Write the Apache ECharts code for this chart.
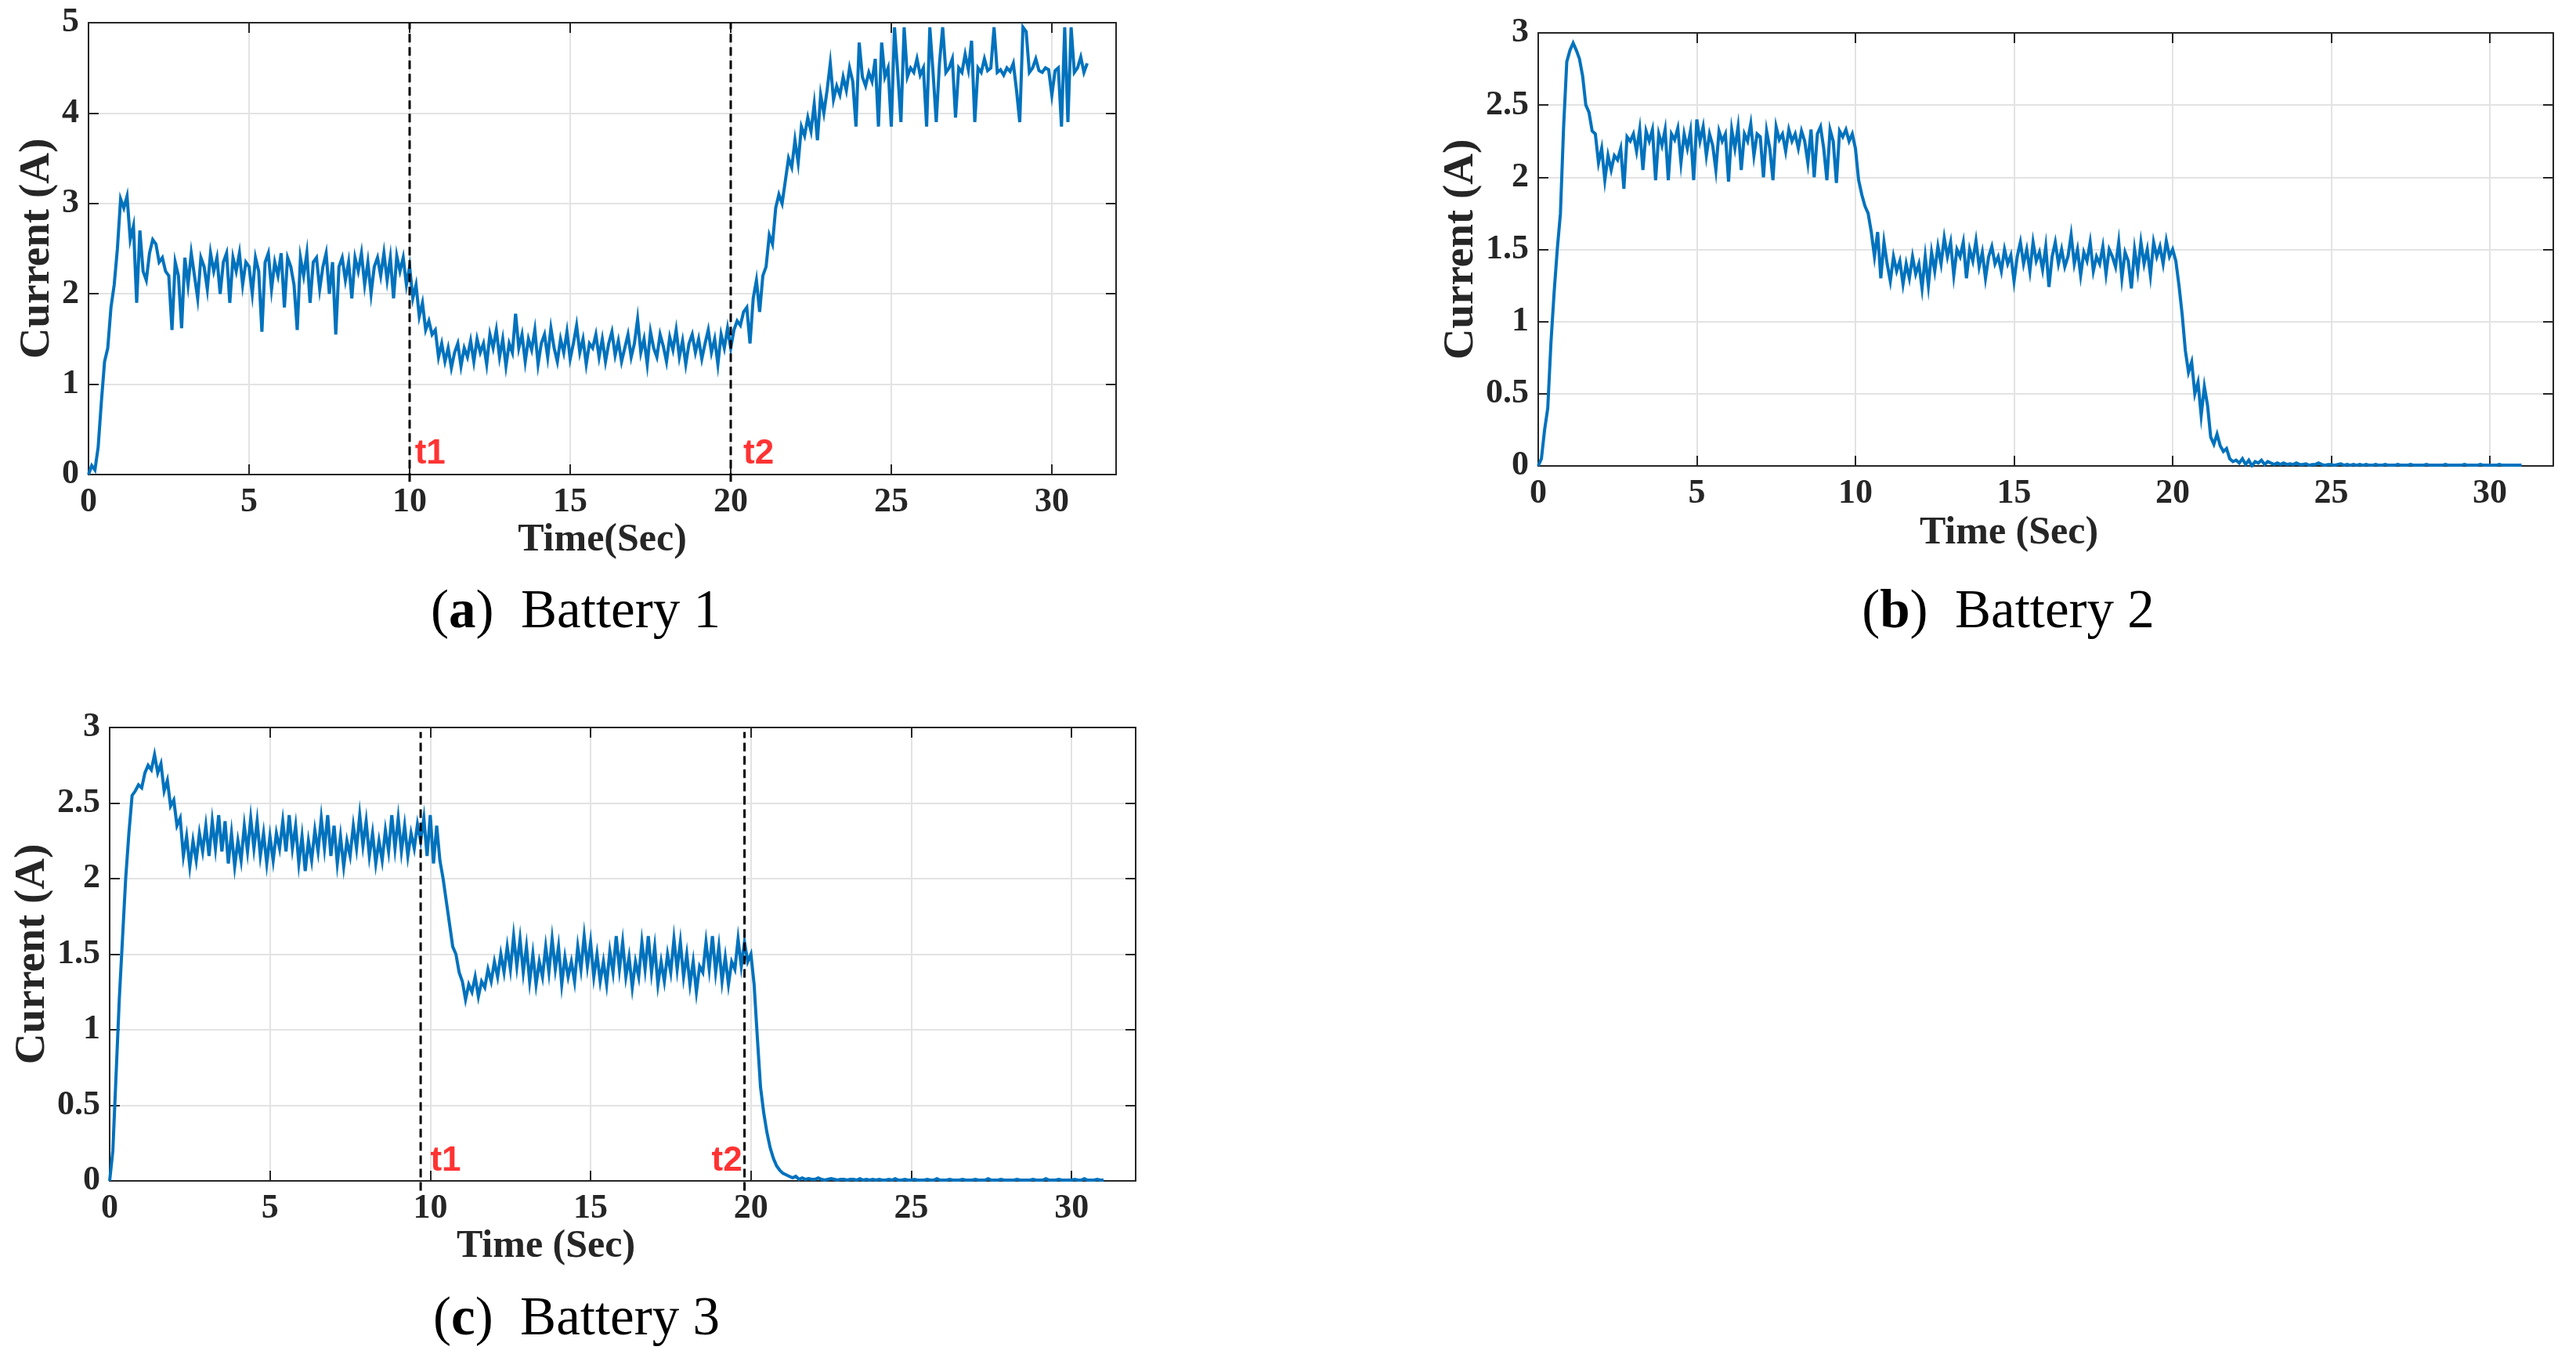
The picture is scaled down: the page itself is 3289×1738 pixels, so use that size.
<!DOCTYPE html>
<html>
<head>
<meta charset="utf-8">
<script src="https://cdn.jsdelivr.net/npm/echarts@6/dist/echarts.min.js"></script>
<style>
html,body{margin:0;padding:0;background:#fff;}
#c{width:3289px;height:1738px;}
</style>
</head>
<body>
<div id="c"></div>
<script>
// ---- data (current in A, one sample every SAMPLE_STEP seconds starting at t = 0) ----
const SAMPLE_STEP = 0.1;
const xTickLabels = [0, 5, 10, 15, 20, 25, 30];

const battery1 = [
0.00,0.10,0.05,0.30,0.80,1.25,1.40,1.85,2.10,2.50,
3.05,2.95,3.08,2.60,2.75,1.90,2.70,2.25,2.15,2.45,
2.60,2.55,2.35,2.40,2.25,2.20,1.60,2.35,2.20,1.62,
2.40,2.10,2.45,2.20,1.95,2.40,2.30,2.05,2.45,2.25,
2.40,2.00,2.35,2.45,1.90,2.40,2.25,2.45,2.10,2.35,
2.30,2.00,2.40,2.25,1.58,2.35,2.45,2.05,2.35,2.20,
2.45,1.85,2.40,2.30,2.10,1.60,2.40,2.20,2.45,1.90,
2.35,2.40,2.05,2.30,2.45,2.00,2.35,1.55,2.30,2.40,
2.15,2.35,1.95,2.40,2.25,2.45,2.10,2.35,2.00,2.30,
2.40,2.20,2.45,2.15,2.40,1.95,2.42,2.25,2.40,2.10,
2.30,1.95,2.10,1.75,1.90,1.60,1.70,1.55,1.60,1.30,
1.45,1.25,1.40,1.18,1.35,1.45,1.20,1.40,1.30,1.48,
1.25,1.50,1.35,1.45,1.22,1.55,1.40,1.60,1.30,1.50,
1.20,1.45,1.35,1.78,1.40,1.55,1.25,1.50,1.38,1.60,
1.22,1.45,1.55,1.30,1.62,1.40,1.25,1.50,1.35,1.58,
1.28,1.45,1.65,1.35,1.50,1.22,1.45,1.40,1.55,1.30,
1.50,1.25,1.45,1.58,1.32,1.48,1.25,1.40,1.55,1.30,
1.45,1.72,1.35,1.50,1.22,1.58,1.40,1.30,1.55,1.42,
1.25,1.52,1.38,1.60,1.30,1.48,1.22,1.45,1.55,1.35,
1.50,1.28,1.45,1.60,1.35,1.50,1.22,1.55,1.40,1.62,
1.40,1.60,1.70,1.65,1.80,1.85,1.45,1.95,2.15,1.80,
2.20,2.30,2.65,2.55,2.95,3.10,3.00,3.25,3.50,3.40,
3.70,3.45,3.85,3.75,3.95,3.80,4.10,3.70,4.20,4.00,
4.25,4.55,4.15,4.30,4.20,4.40,4.25,4.50,4.35,3.85,
4.78,4.40,4.30,4.45,4.35,4.60,3.85,4.78,4.40,4.50,
3.85,4.95,4.45,3.90,4.95,4.40,4.50,4.45,4.60,4.42,
4.50,3.85,4.95,4.45,3.90,4.55,4.95,4.45,4.50,4.60,
3.95,4.50,4.45,4.65,4.48,4.80,3.90,4.50,4.45,4.60,
4.47,4.50,4.95,4.45,4.48,4.42,4.50,4.46,4.55,4.25,
3.90,4.95,4.90,4.45,4.50,4.60,4.47,4.45,4.50,4.48,
4.20,4.47,4.50,3.85,4.95,3.90,4.95,4.45,4.50,4.62,
4.45,4.55
];

const battery2 = [
0.00,0.05,0.25,0.40,0.85,1.20,1.50,1.75,2.35,2.80,
2.88,2.93,2.88,2.82,2.70,2.50,2.45,2.32,2.30,2.10,
2.20,1.98,2.15,2.05,2.15,2.12,2.20,1.92,2.28,2.25,
2.30,2.18,2.33,2.05,2.32,2.25,2.33,1.98,2.30,2.22,
2.33,1.98,2.30,2.26,2.34,2.10,2.30,2.20,2.32,1.98,
2.40,2.25,2.35,2.15,2.30,2.22,2.05,2.32,2.25,2.30,
1.97,2.33,2.20,2.35,2.05,2.30,2.25,2.37,2.15,2.30,
2.28,2.00,2.32,2.20,1.98,2.35,2.26,2.30,2.18,2.33,
2.25,2.30,2.20,2.32,2.25,2.10,2.33,2.00,2.30,2.35,
2.20,1.98,2.33,2.25,1.96,2.32,2.28,2.33,2.25,2.30,
2.20,1.98,1.88,1.80,1.75,1.62,1.45,1.62,1.30,1.55,
1.40,1.28,1.45,1.35,1.42,1.26,1.40,1.30,1.45,1.33,
1.40,1.23,1.45,1.25,1.48,1.35,1.52,1.40,1.58,1.45,
1.55,1.32,1.50,1.45,1.55,1.30,1.50,1.42,1.56,1.38,
1.48,1.30,1.45,1.52,1.40,1.45,1.35,1.50,1.40,1.46,
1.28,1.45,1.55,1.40,1.50,1.35,1.55,1.42,1.48,1.36,
1.52,1.24,1.45,1.55,1.40,1.50,1.38,1.45,1.60,1.40,
1.50,1.32,1.48,1.42,1.55,1.35,1.45,1.40,1.52,1.33,
1.50,1.45,1.38,1.55,1.30,1.48,1.42,1.23,1.50,1.35,
1.55,1.40,1.50,1.32,1.55,1.45,1.52,1.40,1.56,1.45,
1.50,1.42,1.25,1.05,0.80,0.65,0.72,0.50,0.58,0.35,
0.55,0.42,0.20,0.15,0.22,0.14,0.10,0.12,0.05,0.03,
0.04,0.02,0.05,0.01,0.04,0.00,0.03,0.02,0.04,0.01,
0.03,0.02,0.01,0.02,0.01,0.02,0.01,0.015,0.01,0.02,
0.01,0.01,0.015,0.005,0.01,0.01,0.02,0.01,0.005,0.01,
0.01,0.005,0.01,0.015,0.005,0.01,0.005,0.01,0.005,0.01,
0.005,0.01,0.005,0.005,0.01,0.005,0.005,0.01,0.005,0.005,
0.005,0.01,0.005,0.005,0.005,0.01,0.005,0.005,0.005,0.005,
0.01,0.005,0.005,0.005,0.005,0.005,0.01,0.005,0.005,0.005,
0.005,0.005,0.01,0.005,0.005,0.005,0.005,0.01,0.005,0.005,
0.005,0.005,0.005,0.01,0.005,0.005,0.005,0.005,0.005,0.005,
0.005
];

const battery3 = [
0.00,0.20,0.70,1.20,1.60,2.00,2.30,2.55,2.58,2.62,
2.60,2.70,2.75,2.72,2.82,2.70,2.76,2.58,2.65,2.48,
2.52,2.35,2.40,2.15,2.28,2.08,2.25,2.12,2.30,2.18,
2.35,2.15,2.38,2.20,2.42,2.18,2.38,2.10,2.30,2.08,
2.25,2.12,2.35,2.18,2.40,2.20,2.38,2.15,2.30,2.10,
2.28,2.12,2.30,2.20,2.38,2.18,2.42,2.20,2.35,2.10,
2.28,2.05,2.25,2.12,2.32,2.18,2.40,2.20,2.42,2.15,
2.35,2.10,2.28,2.08,2.25,2.15,2.35,2.20,2.42,2.22,
2.38,2.15,2.30,2.10,2.25,2.12,2.32,2.18,2.42,2.20,
2.40,2.18,2.35,2.15,2.30,2.20,2.36,2.25,2.40,2.15,
2.42,2.10,2.35,2.12,2.00,1.85,1.70,1.55,1.50,1.38,
1.32,1.20,1.30,1.25,1.35,1.22,1.32,1.28,1.40,1.32,
1.45,1.35,1.50,1.38,1.55,1.40,1.62,1.42,1.60,1.38,
1.55,1.32,1.50,1.30,1.45,1.35,1.55,1.38,1.60,1.40,
1.55,1.30,1.48,1.35,1.45,1.32,1.55,1.40,1.62,1.42,
1.58,1.35,1.50,1.32,1.45,1.30,1.52,1.38,1.62,1.40,
1.58,1.35,1.48,1.28,1.45,1.35,1.58,1.40,1.62,1.38,
1.55,1.30,1.45,1.32,1.50,1.38,1.60,1.40,1.58,1.35,
1.50,1.30,1.45,1.25,1.42,1.38,1.58,1.40,1.62,1.38,
1.55,1.32,1.48,1.30,1.45,1.40,1.60,1.42,1.58,1.45,
1.50,1.30,0.95,0.62,0.45,0.32,0.22,0.15,0.10,0.07,
0.05,0.04,0.03,0.02,0.03,0.01,0.02,0.01,0.015,0.01,
0.01,0.02,0.01,0.005,0.01,0.015,0.01,0.005,0.01,0.01,
0.005,0.01,0.01,0.005,0.015,0.005,0.01,0.005,0.01,0.005,
0.01,0.005,0.005,0.01,0.005,0.015,0.005,0.005,0.01,0.005,
0.005,0.01,0.005,0.005,0.005,0.01,0.005,0.005,0.015,0.005,
0.005,0.005,0.01,0.005,0.005,0.005,0.01,0.005,0.005,0.005,
0.01,0.005,0.005,0.005,0.015,0.005,0.005,0.005,0.01,0.005,
0.005,0.005,0.005,0.01,0.005,0.005,0.005,0.005,0.01,0.005,
0.005,0.005,0.015,0.005,0.005,0.005,0.01,0.005,0.005,0.005,
0.005,0.01,0.005,0.005,0.015,0.005,0.005,0.005,0.01,0.005,
0.005
];

// switching instants (s) marked with dashed lines
const eventTimesA = [10, 20];
const eventTimesC = [9.7, 19.8];
const eventNames = ['t1', 't2'];

// ---- chart ----
const INK = '#262626';
const SERIF = 'Liberation Serif';
const toXY = arr => arr.map((v, i) => [Math.round(i * SAMPLE_STEP * 100) / 100, v]);

const panels = [
  { grid: {left: 113, top: 29, width: 1312, height: 577}, yMax: 5, yInt: 1, data: battery1,
    xName: 'Time(Sec)', xGap: 46, xPad: 0, yGap: 36,
    events: eventTimesA, evTop: 5, evBottom: -0.08,
    labels: [{x: 10.15, y: 0.23, pos: 'right'}, {x: 20.38, y: 0.23, pos: 'right'}],
    caption: {x: 735, y: 783, letter: 'a', text: 'Battery 1'} },
  { grid: {left: 1964, top: 42, width: 1296, height: 553}, yMax: 3, yInt: 0.5, data: battery2,
    xName: 'Time (Sec)', xGap: 61, xPad: 94, yGap: 70,
    events: [], labels: [],
    caption: {x: 2564, y: 783, letter: 'b', text: 'Battery 2'} },
  { grid: {left: 140, top: 929, width: 1310, height: 579}, yMax: 3, yInt: 0.5, data: battery3,
    xName: 'Time (Sec)', xGap: 47, xPad: 196, yGap: 70,
    events: eventTimesC, evTop: 2.97, evBottom: -0.065,
    labels: [{x: 9.99, y: 0.13, pos: 'right'}, {x: 19.74, y: 0.13, pos: 'left'}],
    caption: {x: 736, y: 1686, letter: 'c', text: 'Battery 3'} }
];

const option = {
  animation: false, backgroundColor: '#ffffff',
  grid: [], xAxis: [], yAxis: [], series: [], graphic: []
};

const boxLine = {show: true, onZero: false, lineStyle: {color: INK, width: 2}};
const inTick = {show: true, inside: true, length: 13, lineStyle: {color: INK, width: 2}};
const tickFont = {fontFamily: SERIF, fontWeight: 'bold', fontSize: 44, color: INK};
const gridLine = {show: true, lineStyle: {color: '#e3e3e3', width: 2}};

panels.forEach((p, k) => {
  option.grid.push(Object.assign({containLabel: false}, p.grid));
  const xi = option.xAxis.length, yi = option.yAxis.length;
  option.xAxis.push({
    type: 'value', gridIndex: k, min: 0, max: 32, interval: 5, position: 'bottom',
    name: p.xName, nameLocation: 'middle', nameGap: p.xGap,
    nameTextStyle: {fontFamily: SERIF, fontWeight: 'bold', fontSize: 50, color: INK, padding: [0, p.xPad, 0, 0]},
    axisLine: boxLine, axisTick: inTick,
    axisLabel: Object.assign({show: true, margin: 14, showMaxLabel: false,
      formatter: v => (xTickLabels.indexOf(v) >= 0 ? String(v) : '')}, tickFont),
    splitLine: gridLine
  });
  option.xAxis.push({
    type: 'value', gridIndex: k, min: 0, max: 32, interval: 5, position: 'top',
    axisLine: boxLine, axisTick: inTick, axisLabel: {show: false}, splitLine: {show: false}
  });
  option.yAxis.push({
    type: 'value', gridIndex: k, min: 0, max: p.yMax, interval: p.yInt, position: 'left',
    name: 'Current (A)', nameLocation: 'middle', nameGap: p.yGap, nameRotate: 90,
    nameTextStyle: {fontFamily: SERIF, fontWeight: 'bold', fontSize: 55, color: INK},
    axisLine: boxLine, axisTick: inTick,
    axisLabel: Object.assign({show: true, margin: 12}, tickFont),
    splitLine: gridLine
  });
  option.yAxis.push({
    type: 'value', gridIndex: k, min: 0, max: p.yMax, interval: p.yInt, position: 'right',
    axisLine: boxLine, axisTick: inTick, axisLabel: {show: false}, splitLine: {show: false}
  });

  option.series.push({
    type: 'line', xAxisIndex: xi, yAxisIndex: yi, data: toXY(p.data),
    symbol: 'none', showSymbol: false, silent: true, z: 2,
    lineStyle: {color: '#0072BD', width: 4, join: 'miter'}, itemStyle: {color: '#0072BD'}
  });

  p.events.forEach(t => {
    option.series.push({
      type: 'line', xAxisIndex: xi, yAxisIndex: yi, clip: false, silent: true, z: 3,
      data: [[t, p.evBottom], [t, p.evTop]], symbol: 'none',
      lineStyle: {color: '#000000', width: 3, type: [11, 6]}
    });
  });

  if (p.labels.length) {
    option.series.push({
      type: 'scatter', xAxisIndex: xi, yAxisIndex: yi, clip: false, silent: true, z: 4,
      symbolSize: 1, itemStyle: {color: 'rgba(0,0,0,0)'},
      data: p.labels.map((l, j) => ({value: [l.x, l.y], name: eventNames[j], label: {position: l.pos}})),
      label: {show: true, formatter: '{b}', distance: 0, color: '#ff0000',
        fontFamily: 'Liberation Sans', fontWeight: 'bold', fontSize: 44}
    });
  }

  option.graphic.push({
    type: 'text', x: p.caption.x, y: p.caption.y, silent: true,
    style: {
      text: '({b|' + p.caption.letter + '})  ' + p.caption.text,
      fontFamily: SERIF, fontSize: 69, fill: '#000000',
      textAlign: 'center', textVerticalAlign: 'middle', align: 'center', verticalAlign: 'middle',
      rich: {b: {fontFamily: SERIF, fontSize: 69, fontWeight: 'bold', fill: '#000000', color: '#000000'}}
    }
  });
});

const chart = echarts.init(document.getElementById('c'));
chart.setOption(option);
</script>
</body>
</html>
